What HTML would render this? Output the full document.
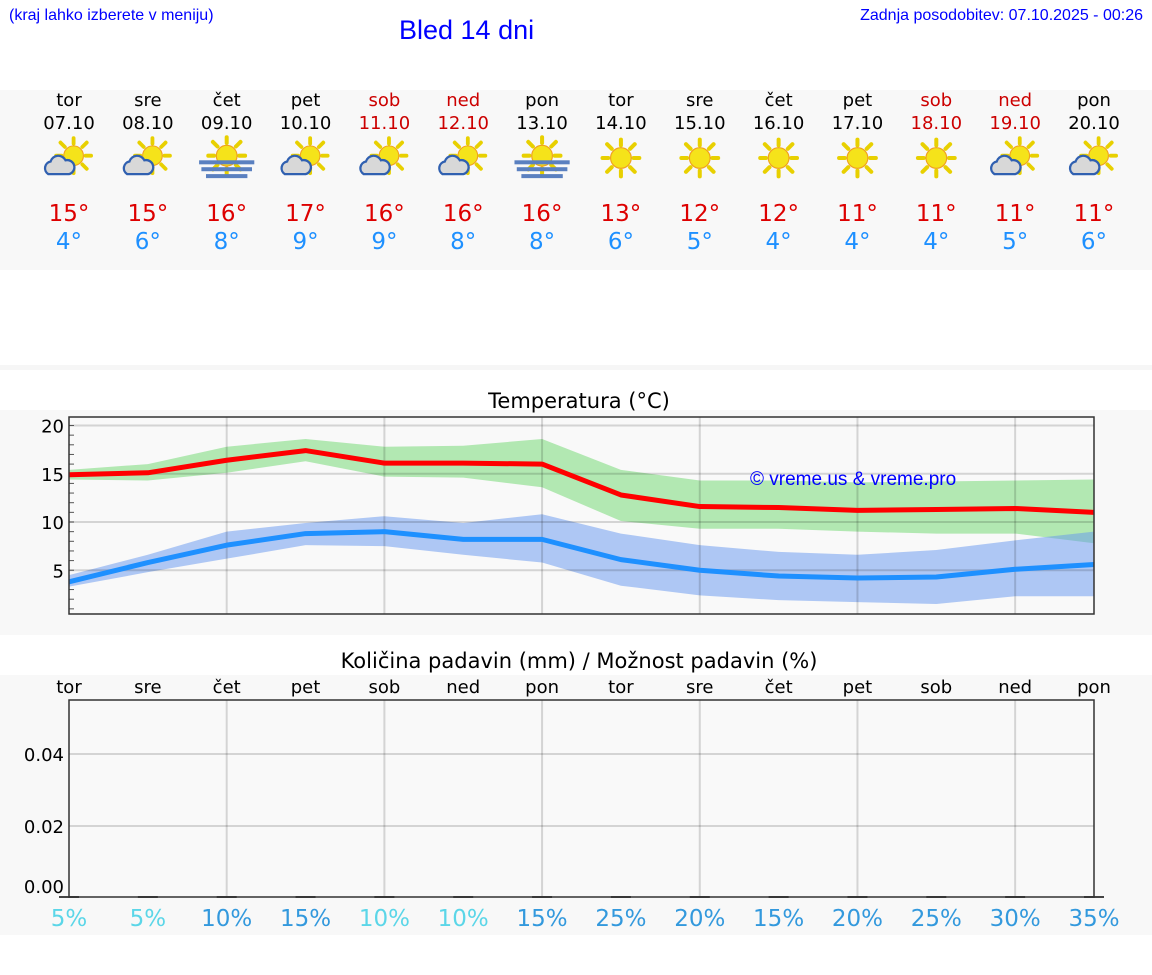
<!DOCTYPE html>
<html><head><meta charset="utf-8"><style>
body{margin:0;width:1152px;height:975px;background:#fff;font-family:"DejaVu Sans","Liberation Sans",sans-serif;position:relative;overflow:hidden}
.abs{position:absolute}
</style></head><body>
<div class="abs" style="left:9px;top:7px;font:16px 'Liberation Sans',sans-serif;color:#00f">(kraj lahko izberete v meniju)</div>
<div class="abs" style="left:399px;top:15px;font:27px 'Liberation Sans',sans-serif;color:#00f">Bled 14 dni</div>
<div class="abs" style="right:9px;top:7px;font:16px 'Liberation Sans',sans-serif;color:#00f">Zadnja posodobitev: 07.10.2025 - 00:26</div>
<div class="abs" style="left:0;top:90px;width:1152px;height:180px;background:#f8f8f8"></div>
<div class="abs" style="left:0;top:365px;width:1152px;height:5px;background:#f6f6f6"></div>
<svg class="abs" style="left:0;top:0" width="1152" height="975" id="svg">
<defs>
<g id="sun"><g stroke="#e8d000" stroke-width="3.5" stroke-linecap="round">
<line x1="0" y1="-11" x2="0" y2="-16"/><line x1="0" y1="11" x2="0" y2="16"/><line x1="-11" y1="0" x2="-16" y2="0"/><line x1="11" y1="0" x2="16" y2="0"/>
<line x1="8" y1="8" x2="12" y2="12"/><line x1="-8" y1="8" x2="-12" y2="12"/><line x1="8" y1="-8" x2="12" y2="-12"/><line x1="-8" y1="-8" x2="-12" y2="-12"/></g>
<circle r="9" fill="#f5e31a" stroke="#f0a020" stroke-width="1"/></g>
<g id="cloud"><path d="M-14,8 a6,6 0 0 1 2,-11 a7,7 0 0 1 13,-1 a6,6 0 0 1 3,12 z" fill="#d8d8d8" stroke="#3060b0" stroke-width="2"/></g>
</defs>
</svg>
<script>
const days=['tor','sre','čet','pet','sob','ned','pon','tor','sre','čet','pet','sob','ned','pon'];
const dates=['07.10','08.10','09.10','10.10','11.10','12.10','13.10','14.10','15.10','16.10','17.10','18.10','19.10','20.10'];
const icons=['pc','pc','fog','pc','pc','pc','fog','sun','sun','sun','sun','sun','pc','pc'];
const tmax=[15,15,16,17,16,16,16,13,12,12,11,11,11,11];
const tmin=[4,6,8,9,9,8,8,6,5,4,4,4,5,6];
const maxLine=[14.9,15.1,16.4,17.4,16.1,16.1,16.0,12.8,11.6,11.5,11.2,11.3,11.4,11.0];
const maxHi=[15.4,16.0,17.8,18.6,17.8,17.9,18.6,15.4,14.3,14.3,14.1,14.2,14.3,14.4];
const maxLo=[14.4,14.3,15.1,16.3,14.7,14.6,13.6,10.1,9.3,9.3,9.0,8.8,8.8,7.8];
const minLine=[3.8,5.8,7.6,8.8,9.0,8.2,8.2,6.1,5.0,4.4,4.2,4.3,5.1,5.6];
const minHi=[4.5,6.6,9.0,9.9,10.6,9.9,10.8,8.8,7.6,6.9,6.6,7.1,8.1,9.0];
const minLo=[3.3,4.8,6.2,7.6,7.5,6.6,5.8,3.4,2.4,1.9,1.7,1.5,2.3,2.3];
const tempTicks=[5,10,15,20];
const precip=[0,0,0,0,0,0,0,0,0,0,0,0,0,0];
const precipTicks=[0,0.02,0.04];
const chance=[5,5,10,15,10,10,15,25,20,15,20,25,30,35];
const weekend=[false,false,false,false,true,true,false,false,false,false,false,true,true,false];
const svg=document.getElementById('svg');const NS='http://www.w3.org/2000/svg';
function mk(t,a,p){const e=document.createElementNS(NS,t);for(const k in a)e.setAttribute(k,a[k]);(p||svg).appendChild(e);return e;}
const X=i=>69+i*(1025/13);
const TY=v=>618.5-9.65*v;
const PY=v=>898-3600*v;
function txt(x,y,s,size,fill,anchor){const e=mk('text',{x:x,y:y,'font-size':size,fill:fill,'text-anchor':anchor||'middle','font-family':'DejaVu Sans, Liberation Sans, sans-serif'});e.textContent=s;return e;}
days.forEach((d,i)=>{const x=X(i);const c=weekend[i]?'#cc0000':'#000';
let e=txt(x,106,d,18,c);
e=txt(x,129,dates[i],18,c);
const g=mk('g',{transform:`translate(${x},158) scale(1.15)`});

if(icons[i]==='sun'){mk('use',{href:'#sun'},g);}
else if(icons[i]==='pc'){mk('use',{href:'#sun',transform:'translate(4,-2) scale(0.95)'},g);mk('use',{href:'#cloud',transform:'translate(-4,6)'},g);}
else{mk('use',{href:'#sun',transform:'translate(0,-2)'},g);[[-24,24,2],[-22,22,8],[-18,18,14]].forEach(r=>mk('rect',{x:r[0],y:r[2],width:r[1]-r[0],height:3.5,fill:'#5a80c0'},g));}
e=txt(x,221,tmax[i]+'°',23,'#dd0000');
e=txt(x,249,tmin[i]+'°',23,'#1e90ff');
});
let r=mk('rect',{x:0,y:410,width:1152,height:225,fill:'#f8f8f8'});
r=mk('rect',{x:69,y:417,width:1025,height:197,fill:'#f9f9f9'});
let t=txt(579,408,'Temperatura (°C)',21,'#000');
function band(hi,lo,fill,name){let d='M'+hi.map((v,i)=>X(i)+','+TY(v)).join(' L');for(let i=lo.length-1;i>=0;i--)d+=' L'+X(i)+','+TY(lo[i]);const p=mk('path',{d:d+'Z',fill:fill});}
band(maxHi,maxLo,'rgba(130,220,130,0.6)','max-temp-range');
band(minHi,minLo,'rgba(100,150,240,0.5)','min-temp-range');
tempTicks.forEach(v=>{mk('line',{x1:69,x2:1094,y1:TY(v),y2:TY(v),stroke:'rgba(0,0,0,0.15)','stroke-width':2});
let e=txt(64,TY(v)+7,String(v),18,'#000','end');});
for(let v=1;v<=20;v++)mk('line',{x1:69,x2:74,y1:TY(v),y2:TY(v),stroke:'#555','stroke-width':1});
for(let i=2;i<14;i+=2)mk('line',{x1:X(i),x2:X(i),y1:417,y2:614,stroke:'rgba(0,0,0,0.15)','stroke-width':2});
function line(a,c,name){const p=mk('polyline',{points:a.map((v,i)=>X(i)+','+TY(v)).join(' '),fill:'none',stroke:c,'stroke-width':5,'stroke-linejoin':'round'});}
line(maxLine,'#ff0000','max-temp-line');line(minLine,'#1e90ff','min-temp-line');
mk('rect',{x:69,y:417,width:1025,height:197,fill:'none',stroke:'#333','stroke-width':1.5});
t=txt(750,485,'© vreme.us & vreme.pro',19,'#0000ff','start');t.setAttribute('font-family','Liberation Sans, sans-serif');
r=mk('rect',{x:0,y:675,width:1152,height:260,fill:'#f8f8f8'});
t=txt(579,668,'Količina padavin (mm) / Možnost padavin (%)',21,'#000');
r=mk('rect',{x:69,y:700,width:1025,height:197,fill:'#f9f9f9'});
precipTicks.forEach(v=>{if(v>0)mk('line',{x1:69,x2:1094,y1:PY(v),y2:PY(v),stroke:'rgba(0,0,0,0.15)','stroke-width':2});
let e=txt(64,Math.min(PY(v),886)+7,v.toFixed(2),18,'#000','end');});
for(let i=2;i<14;i+=2)mk('line',{x1:X(i),x2:X(i),y1:700,y2:897,stroke:'rgba(0,0,0,0.15)','stroke-width':2});
days.forEach((d,i)=>{const x=X(i);
let e=txt(x,693,d,18,'#000');
const h=Math.max(2,898-PY(precip[i]));const b=mk('rect',{x:x-10,y:898-h,width:20,height:h,fill:'#444'});

const light=chance[i]<=10&&i!==2;
e=txt(x,926,chance[i]+'%',23,light?'#5bd6e8':'#3399dd');});
mk('rect',{x:69,y:700,width:1025,height:197,fill:'none',stroke:'#333','stroke-width':1.5});
</script>
</body></html>
